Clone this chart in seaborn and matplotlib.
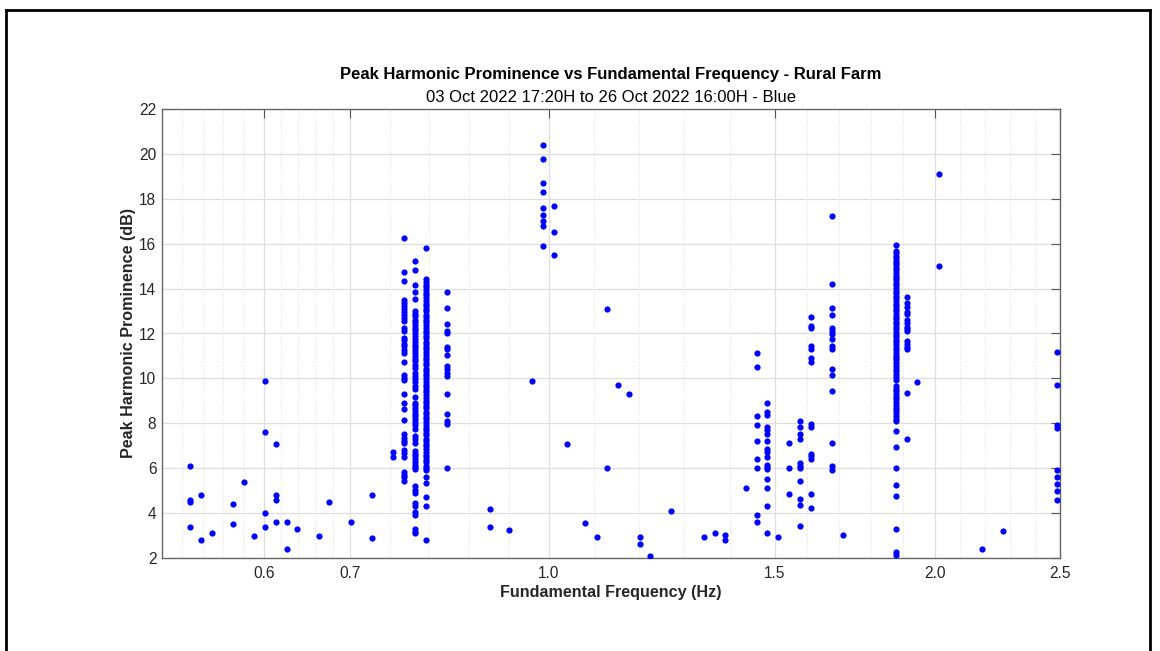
import numpy as np
import pandas as pd
import matplotlib
matplotlib.use("Agg")
import matplotlib.pyplot as plt
import seaborn as sns
from matplotlib.ticker import FixedLocator, FixedFormatter, NullFormatter
from matplotlib.lines import Line2D

# ---------------------------------------------------------------- data
# isolated detections: fundamental frequency (Hz) and prominence (dB)
sparse_freq = [0.5255, 0.5255, 0.5255, 0.5255,
               0.536, 0.536, 0.5466, 0.568, 0.568, 0.579, 0.590,
               0.6015, 0.6015, 0.6015, 0.6015,
               0.613, 0.613, 0.613, 0.613,
               0.625, 0.625, 0.637, 0.662, 0.675, 0.702, 0.728, 0.728,
               0.7566, 0.7566, 0.900, 0.900, 0.932, 0.971, 1.034,
               1.068, 1.091, 1.111, 1.111, 1.133, 1.155, 1.177, 1.177, 1.200,
               1.246, 1.320, 1.346, 1.372, 1.372, 1.424, 1.509,
               1.539, 1.539, 1.539, 1.693, 1.935, 2.011, 2.011, 2.173, 2.258]
sparse_prom = [6.1, 4.6, 4.5, 3.4,
               4.8, 2.8, 3.1, 4.4, 3.5, 5.4, 3.0,
               9.9, 7.6, 4.0, 3.4,
               7.1, 4.8, 4.6, 3.6,
               3.6, 2.4, 3.3, 3.0, 4.5, 3.6, 4.8, 2.9,
               6.7, 6.5, 4.2, 3.4, 3.25, 9.9, 7.1,
               3.55, 2.92, 13.1, 6.0, 9.7, 9.3, 2.92, 2.62, 2.1,
               4.1, 2.92, 3.13, 3.02, 2.8, 5.13, 2.92,
               7.13, 6.0, 4.86, 3.03, 9.83, 19.12, 15.01, 2.4, 3.2]

# repeated detections stacked on a single frequency bin
column_freqs = [0.7716, 0.7865, 0.802, 0.8335, 0.9905, 1.0088, 1.452, 1.480,
                1.569, 1.600, 1.660, 1.863, 1.900, 2.487]

prom_0772 = [16.24, 14.74, 14.34, 13.48, 13.36, 13.21, 13.09, 12.94, 12.83, 12.67,
             12.56, 12.26, 12.11, 11.82, 11.69, 11.55, 11.43, 11.28, 11.15, 10.75,
             10.15, 10.02, 9.93, 9.32, 8.89, 8.63, 8.14, 7.53, 7.36, 7.23, 7.11,
             6.82, 6.67, 6.49, 5.85, 5.70, 5.60, 5.43]
prom_0787 = [15.23, 14.84, 14.15, 13.85, 13.52, 13.0, 12.87, 12.77, 12.62, 12.51,
             12.37, 12.26, 12.14, 12.0, 11.88, 11.77, 11.62, 11.51, 11.39, 11.25,
             11.13, 11.01, 10.87, 10.76, 10.61, 10.48, 10.26, 10.12, 9.97, 9.83,
             9.66, 9.55, 9.15, 8.92, 8.81, 8.67, 8.56, 8.41, 8.31, 8.17, 8.06,
             7.91, 7.74, 7.44, 7.3, 7.14, 6.77, 6.64, 6.53, 6.39, 6.28, 6.14,
             6.05, 5.96, 5.21, 5.03, 4.88, 4.44, 4.32, 4.04, 3.92, 3.28, 3.17, 3.10]
prom_0802 = [15.82, 14.41, 14.3, 14.16, 14.06, 13.92, 13.8, 13.7, 13.56, 13.46,
             13.32, 13.22, 13.08, 12.98, 12.84, 12.74, 12.6, 12.5, 12.36, 12.26,
             12.12, 12.02, 11.88, 11.78, 11.64, 11.54, 11.4, 11.3, 11.16, 11.06,
             10.92, 10.82, 10.68, 10.58, 10.44, 10.34, 10.2, 10.1, 9.96, 9.86,
             9.72, 9.62, 9.48, 9.38, 9.24, 9.14, 9.0, 8.9, 8.76, 8.66, 8.52,
             8.42, 8.28, 8.18, 8.04, 7.94, 7.8, 7.7, 7.56, 7.46, 7.32, 7.22,
             7.08, 6.98, 6.84, 6.74, 6.6, 6.5, 6.36, 6.26, 6.12, 6.02, 5.9,
             5.6, 5.33, 4.70, 4.32, 2.80]
prom_0834 = [13.83, 13.14, 12.42, 12.11, 12.0, 11.42, 11.33, 11.03, 10.55, 10.4,
             10.25, 10.11, 9.32, 8.43, 8.12, 7.97, 6.0]
prom_0991 = [20.39, 19.79, 18.71, 18.31, 17.61, 17.30, 17.0, 16.79, 15.90]
prom_1009 = [17.68, 16.50, 15.50]
prom_1452 = [11.11, 10.49, 8.31, 7.91, 7.19, 6.40, 6.0, 3.93, 3.60]
prom_1480 = [8.9, 8.51, 8.37, 7.85, 7.7, 7.53, 7.19, 6.84, 6.7, 6.52, 6.15,
             6.05, 5.96, 5.51, 5.11, 4.33, 3.13]
prom_1569 = [8.12, 7.83, 7.53, 7.32, 6.24, 6.12, 6.01, 5.42, 4.63, 4.34, 3.41]
prom_1600 = [12.73, 12.33, 12.23, 11.44, 11.32, 10.92, 10.73, 7.95, 7.83, 6.64,
             6.53, 6.42, 4.86, 4.23]
prom_1660 = [17.23, 14.22, 13.13, 12.84, 12.26, 12.11, 11.99, 11.74, 11.44, 11.32,
             10.40, 10.13, 9.43, 7.13, 6.12, 5.94]
prom_1863 = [15.94, 15.66, 15.58, 15.45, 15.36, 15.24, 15.15, 15.03, 14.92, 14.81,
             14.7, 14.58, 14.47, 14.38, 14.25, 14.14, 14.02, 13.9, 13.81, 13.68,
             13.57, 13.46, 13.33, 13.22, 13.1, 12.99, 12.88, 12.75, 12.64, 12.52,
             12.41, 12.3, 12.18, 12.06, 11.95, 11.83, 11.72, 11.6, 11.49, 11.37,
             11.26, 11.14, 11.02, 10.91, 10.8, 10.67, 10.55, 10.44, 10.32, 10.2,
             10.08, 9.95, 9.66, 9.55, 9.43, 9.3, 9.18, 9.07, 8.95, 8.83, 8.7,
             8.58, 8.45, 8.33, 8.2, 8.09, 7.65, 6.94, 6.01, 5.23, 4.75, 3.31,
             2.26, 2.15]
prom_1900 = [13.64, 13.35, 13.2, 12.95, 12.85, 12.6, 12.45, 12.3, 12.2, 12.1,
             11.65, 11.55, 11.4, 11.29, 9.33, 7.32]
prom_2487 = [11.19, 9.69, 7.92, 7.77, 5.91, 5.61, 5.28, 4.98, 4.60]

column_proms = [prom_0772, prom_0787, prom_0802, prom_0834, prom_0991, prom_1009,
                prom_1452, prom_1480, prom_1569, prom_1600, prom_1660, prom_1863,
                prom_1900, prom_2487]

major_ticks = [0.6, 0.7, 1.0, 1.5, 2.0, 2.5]
major_labels = ["0.6", "0.7", "1.0", "1.5", "2.0", "2.5"]

title = "Peak Harmonic Prominence vs Fundamental Frequency - Rural Farm"
subtitle = "03 Oct 2022 17:20H to 26 Oct 2022 16:00H - Blue"

# ---------------------------------------------------------------- table
freqs = list(sparse_freq)
proms = list(sparse_prom)
for f, vals in zip(column_freqs, column_proms):
    freqs += [f] * len(vals)
    proms += vals
df = pd.DataFrame({"freq": freqs, "prom": proms})

# ---------------------------------------------------------------- figure
sns.set_theme(style="white")
plt.rcParams['font.family'] = ['Liberation Sans', 'DejaVu Sans']

W, H = 1160, 651
fig = plt.figure(figsize=(W / 100, H / 100), dpi=100)
ax = fig.add_axes([162 / W, (H - 558) / H, 898 / W, 449 / H])

sns.scatterplot(data=df, x="freq", y="prom", ax=ax, color="#0000ff",
                s=20, linewidth=0, legend=False, zorder=3)

ax.set_xscale("log")
ax.set_xlim(0.5, 2.5)
ax.set_ylim(2, 22)

# major ticks and five log-equal minor divisions between neighbours
edges = [0.5] + major_ticks
minor = []
for a, b in zip(edges[:-1], edges[1:]):
    minor += list(np.geomspace(a, b, 6)[1:-1])
ax.xaxis.set_major_locator(FixedLocator(major_ticks))
ax.xaxis.set_major_formatter(FixedFormatter(major_labels))
ax.xaxis.set_minor_locator(FixedLocator(minor))
ax.xaxis.set_minor_formatter(NullFormatter())
ax.yaxis.set_major_locator(FixedLocator(np.arange(2, 23, 2)))

ax.set_axisbelow(True)
ax.grid(which="major", axis="both", color="#dedede", lw=0.9, ls="-")
ax.grid(which="minor", axis="x", color="#dedede", lw=0.7, ls=(0, (1, 2)))

ax.tick_params(which="major", direction="in", length=6.5, width=0.8,
               color="#555555", top=True, right=True, labelsize=11.2,
               labelcolor="#262626")
ax.tick_params(axis="x", which="major", pad=6)
ax.tick_params(axis="y", which="major", pad=4)
ax.tick_params(which="minor", length=0)
for sp in ax.spines.values():
    sp.set_color("#666666")
    sp.set_linewidth(1.0)

ax.set_xlabel("Fundamental Frequency (Hz)", fontsize=11.6, fontweight="bold",
              color="#262626")
ax.set_ylabel("Peak Harmonic Prominence (dB)", fontsize=11.6, fontweight="bold",
              color="#262626")
ax.xaxis.label.set_va("center")
ax.yaxis.label.set_va("center")
ax.xaxis.set_label_coords(0.5, (558 - 593) / 449)
ax.yaxis.set_label_coords((128 - 162) / 898, 0.5)

cx = (162 + 1060) / 2 / W
fig.text(cx, 1 - 75 / H, title, ha="center", va="center", fontsize=12,
         fontweight="bold", color="#000000")
fig.text(cx, 1 - 97 / H, subtitle, ha="center", va="center", fontsize=12,
         color="#000000")

# outer frame
for xs, ys in [([6 / W, 6 / W], [0, 1 - 10 / H]),
               ([6 / W, 1150 / W], [1 - 10 / H, 1 - 10 / H]),
               ([1150 / W, 1150 / W], [0, 1 - 10 / H])]:
    fig.add_artist(Line2D(xs, ys, transform=fig.transFigure, color="black",
                          lw=2, solid_capstyle="projecting"))

fig.savefig("out.png", dpi=100)
